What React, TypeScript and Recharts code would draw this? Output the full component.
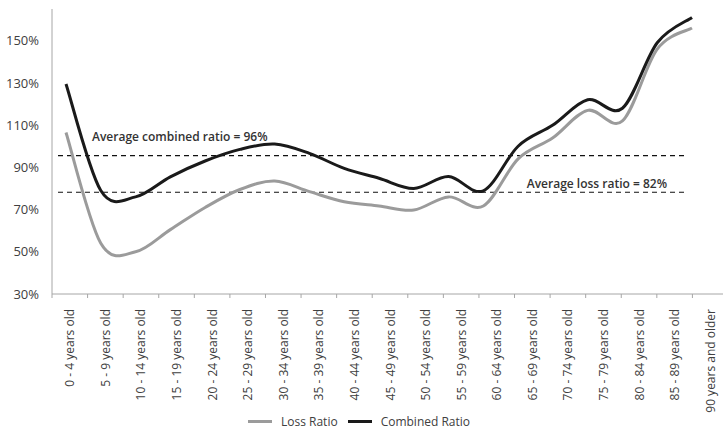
import React from 'react';
import { LineChart, Line, XAxis, YAxis, ReferenceLine, Legend } from 'recharts';

const AGE_GROUPS = [
  '0 - 4 years old', '5 - 9 years old', '10 - 14 years old', '15 - 19 years old',
  '20 - 24 years old', '25 - 29 years old', '30 - 34 years old', '35 - 39 years old',
  '40 - 44 years old', '45 - 49 years old', '50 - 54 years old', '55 - 59 years old',
  '60 - 64 years old', '65 - 69 years old', '70 - 74 years old', '75 - 79 years old',
  '80 - 84 years old', '85 - 89 years old', '90 years and older',
];
const LOSS_RATIO = [106.5, 54, 50, 60.5, 71, 79.5, 83.5, 78.5, 73.7, 71.7, 69.8, 76, 71.7, 94, 104, 117, 112, 146, 156];
const COMBINED_RATIO = [129.5, 79, 76, 85.5, 93, 98.5, 101, 96.6, 89.5, 84.8, 80, 85.6, 78.9, 100, 110, 122, 118, 149, 161];
const SERIES_NAMES = ['Loss Ratio', 'Combined Ratio'];
const Y_TICKS = [30, 50, 70, 90, 110, 130, 150];
const Y_DOMAIN = [30, 165];
const AVG_COMBINED = 95.5;
const AVG_LOSS = 78.2;
const AVG_COMBINED_LABEL = 'Average combined ratio = 96%';
const AVG_LOSS_LABEL = 'Average loss ratio = 82%';
const AVG_LINE_FROM = -0.23;
const AVG_LINE_TO = 17.8;

const data = AGE_GROUPS.map((age, i) => ({
  age,
  idx: i,
  loss: LOSS_RATIO[i],
  combined: COMBINED_RATIO[i],
}));

const FONT = '"Open Sans", "DejaVu Sans", sans-serif';
const TEXT = '#404040';
const AXIS = '#a6a6a6';
const CHART_W = 735;
const MARGIN = { top: 9, right: 7, bottom: 0, left: 0 };
const Y_W = 52;
const BAND = (CHART_W - MARGIN.right - MARGIN.left - Y_W) / AGE_GROUPS.length;
const COLORS: Record<string, string> = { 'Loss Ratio': '#9b9b9b', 'Combined Ratio': '#1a1a1a' };

// Catmull-Rom style smoothing (similar to Excel smoothed lines)
function smoothCurve(context: any) {
  let xs: number[] = [];
  let ys: number[] = [];
  return {
    areaStart() {},
    areaEnd() {},
    lineStart() {
      xs = [];
      ys = [];
    },
    point(x: number, y: number) {
      xs.push(+x);
      ys.push(+y);
    },
    lineEnd() {
      const n = xs.length;
      if (!n) return;
      context.moveTo(xs[0], ys[0]);
      for (let i = 0; i < n - 1; i++) {
        const p = Math.max(0, i - 1);
        const q = Math.min(n - 1, i + 2);
        const c1x = xs[i] + (xs[i + 1] - xs[p]) / 6;
        const c1y = ys[i] + (ys[i + 1] - ys[p]) / 6;
        const c2x = xs[i + 1] - (xs[q] - xs[i]) / 6;
        const c2y = ys[i + 1] - (ys[q] - ys[i]) / 6;
        context.bezierCurveTo(c1x, c1y, c2x, c2y, xs[i + 1], ys[i + 1]);
      }
    },
  };
}

const XTick = (props: any) => {
  const { x, y, payload } = props;
  const off = BAND / 2;
  const isLast = payload.index === AGE_GROUPS.length - 1;
  const axisY = y - 4;
  return (
    <g>
      <line x1={x - off} x2={x - off} y1={axisY} y2={axisY + 4} stroke={AXIS} strokeWidth={1} />
      {isLast && <line x1={x + off} x2={x + off} y1={axisY} y2={axisY + 4} stroke={AXIS} strokeWidth={1} />}
      <text
        x={x}
        y={axisY + 15}
        transform={`rotate(-90, ${x}, ${axisY + 15})`}
        textAnchor="end"
        dominantBaseline="central"
        fontFamily={FONT}
        fontSize={12}
        fill={TEXT}
      >
        {payload.value}
      </text>
    </g>
  );
};

const LegendContent = () => (
  <div
    style={{
      display: 'flex',
      alignItems: 'center',
      height: 20,
      paddingLeft: 248,
      fontFamily: FONT,
      fontSize: 12,
      color: TEXT,
    }}
  >
    {SERIES_NAMES.map((name) => (
      <div key={name} style={{ display: 'flex', alignItems: 'center', marginRight: 10 }}>
        <span style={{ display: 'inline-block', width: 24, height: 3, background: COLORS[name], marginRight: 9 }} />
        <span>{name}</span>
      </div>
    ))}
  </div>
);

export default function App() {
  return (
    <div
      style={{
        position: 'absolute',
        left: 0,
        top: 0,
        width: 723,
        height: 431,
        overflow: 'hidden',
        background: '#fff',
      }}
    >
      <LineChart width={CHART_W} height={431} data={data} margin={MARGIN}>
        <XAxis
          xAxisId="cat"
          dataKey="age"
          type="category"
          interval={0}
          padding={{ left: BAND / 2, right: BAND / 2 }}
          axisLine={{ stroke: AXIS }}
          tickLine={false}
          tickSize={4}
          tickMargin={0}
          height={117}
          tick={<XTick />}
        />
        <XAxis
          xAxisId="pts"
          dataKey="idx"
          type="number"
          domain={[0, AGE_GROUPS.length - 1]}
          padding={{ left: 14, right: 36 }}
          hide
        />
        <YAxis
          width={Y_W}
          domain={Y_DOMAIN}
          ticks={Y_TICKS}
          allowDataOverflow
          axisLine={{ stroke: AXIS }}
          tickLine={false}
          tickSize={6}
          tickMargin={7}
          tickFormatter={(v: number) => `${v}%`}
          tick={{ fontFamily: FONT, fontSize: 13, fill: TEXT }}
        />
        <ReferenceLine
          xAxisId="pts"
          ifOverflow="visible"
          segment={[{ x: AVG_LINE_FROM, y: AVG_COMBINED }, { x: AVG_LINE_TO, y: AVG_COMBINED }]}
          stroke="#111"
          strokeWidth={1.2}
          strokeDasharray="5 4"
          label={(p: any) => (
            <text
              x={p.viewBox.x + 34}
              y={p.viewBox.y - 19}
              dominantBaseline="central"
              fontFamily={FONT}
              fontWeight={600}
              fontSize={12}
              fill="#333"
            >
              {AVG_COMBINED_LABEL}
            </text>
          )}
        />
        <ReferenceLine
          xAxisId="pts"
          ifOverflow="visible"
          segment={[{ x: AVG_LINE_FROM, y: AVG_LOSS }, { x: AVG_LINE_TO, y: AVG_LOSS }]}
          stroke="#111"
          strokeWidth={1.2}
          strokeDasharray="5 4"
          label={(p: any) => (
            <text
              x={p.viewBox.x + p.viewBox.width - 18}
              y={p.viewBox.y - 9}
              textAnchor="end"
              dominantBaseline="central"
              fontFamily={FONT}
              fontWeight={600}
              fontSize={12}
              fill="#333"
            >
              {AVG_LOSS_LABEL}
            </text>
          )}
        />
        <Line
          xAxisId="pts"
          dataKey="loss"
          name="Loss Ratio"
          type={smoothCurve as any}
          stroke={COLORS['Loss Ratio']}
          strokeWidth={3}
          dot={false}
          activeDot={false}
          isAnimationActive={false}
        />
        <Line
          xAxisId="pts"
          dataKey="combined"
          name="Combined Ratio"
          type={smoothCurve as any}
          stroke={COLORS['Combined Ratio']}
          strokeWidth={3}
          dot={false}
          activeDot={false}
          isAnimationActive={false}
        />
        <Legend verticalAlign="bottom" height={20} content={<LegendContent />} />
      </LineChart>
    </div>
  );
}
